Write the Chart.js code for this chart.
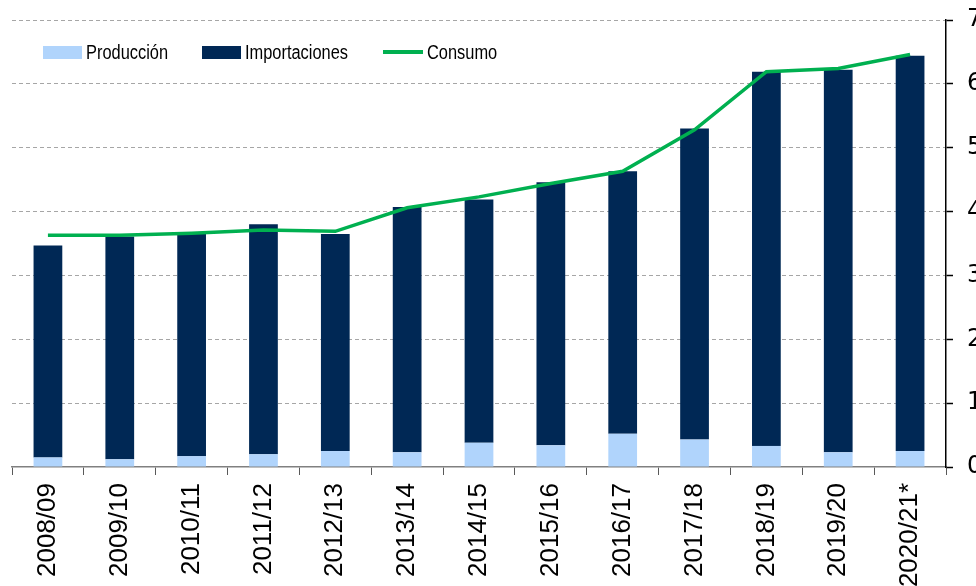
<!DOCTYPE html>
<html>
<head>
<meta charset="utf-8">
<script src="https://cdn.jsdelivr.net/npm/chart.js@4/dist/chart.umd.min.js"></script>
<style>
  html, body { margin: 0; padding: 0; background: #fff; overflow: hidden; }
  #wrap { position: relative; width: 976px; height: 586px; }
  #legend {
    position: absolute; left: 0; top: 0; width: 976px; height: 80px;
    font-family: "Liberation Sans", Arial, sans-serif;
    font-size: 20px; color: #000;
  }
  .item { position: absolute; top: 40px; height: 24px; display: flex; align-items: center; }
  .sym { display: inline-block; margin-right: 4px; }
  .txt { display: inline-block; transform: scaleX(0.82); transform-origin: left center; white-space: nowrap; }
</style>
</head>
<body>
<div id="wrap">
  <canvas id="chart" width="976" height="586"></canvas>
  <div id="legend"></div>
</div>
<script>
const labels = ["2008/09", "2009/10", "2010/11", "2011/12", "2012/13", "2013/14", "2014/15",
  "2015/16", "2016/17", "2017/18", "2018/19", "2019/20", "2020/21*"];
const produccion = [0.15, 0.12, 0.17, 0.20, 0.25, 0.23, 0.38, 0.34, 0.52, 0.43, 0.33, 0.23, 0.25];
const importaciones = [3.32, 3.49, 3.48, 3.60, 3.40, 3.84, 3.81, 4.12, 4.11, 4.87, 5.86, 5.99, 6.19];
const consumo = [3.63, 3.63, 3.66, 3.71, 3.69, 4.06, 4.23, 4.44, 4.63, 5.28, 6.19, 6.24, 6.46];
const yTicks = [0, 1, 2, 3, 4, 5, 6, 7];

const ctx = document.getElementById("chart").getContext("2d");

const chart = new Chart(ctx, {
  type: "bar",
  data: {
    labels: labels,
    datasets: [
      {
        type: "line",
        label: "Consumo",
        data: consumo,
        borderColor: "#00b050",
        backgroundColor: "#00b050",
        borderWidth: 3.5,
        pointRadius: 0,
        tension: 0,
        stack: "consumo",
        order: 0,
      },
      {
        label: "Producción",
        data: produccion,
        backgroundColor: "#b0d4fc",
        stack: "bars",
        order: 1,
        barPercentage: 0.4,
        categoryPercentage: 1,
      },
      {
        label: "Importaciones",
        data: importaciones,
        backgroundColor: "#002855",
        stack: "bars",
        order: 2,
        barPercentage: 0.4,
        categoryPercentage: 1,
      },
    ],
  },
  options: {
    responsive: false,
    animation: false,
    layout: { padding: { top: 20, left: 12, right: 0, bottom: 0 } },
    plugins: {
      legend: { display: false },
      tooltip: { enabled: false },
    },
    scales: {
      x: {
        stacked: true,
        grid: {
          offset: true,
          drawOnChartArea: false,
          drawTicks: true,
          tickLength: 8,
          tickColor: "#595959",
        },
        border: { display: true, color: "#808080", width: 1.5 },
        ticks: {
          minRotation: 90,
          maxRotation: 90,
          autoSkip: false,
          padding: 8,
          color: "#000",
          font: { family: "'Liberation Sans', Arial, sans-serif", size: 26 },
        },
        afterFit: (scale) => { scale.height = 119; },
      },
      y: {
        stacked: true,
        position: "right",
        min: 0,
        max: 7,
        afterBuildTicks: (scale) => { scale.ticks = yTicks.map(v => ({ value: v })); },
        grid: {
          color: (c) => (c.tick && c.tick.value === 0 ? "rgba(0,0,0,0)" : "#a6a6a6"),
          lineWidth: 1,
          drawTicks: true,
          tickLength: 7,
          tickColor: "#000",
          tickBorderDash: [],
          tickWidth: 1.5,
        },
        border: { display: true, color: "#000", width: 1.5, dash: [4, 3] },
        ticks: {
          padding: 14,
          color: "#000",
          font: { family: "'DejaVu Sans', Verdana, sans-serif", size: 24 },
        },
        afterFit: (scale) => {
          scale.width = 30;
          scale.paddingTop = 0;
          scale.paddingBottom = 0;
        },
      },
    },
  },
});

// legend inside the plot area, built from the datasets
const legendLeft = { "Producción": 43, "Importaciones": 202, "Consumo": 383 };
const legend = document.getElementById("legend");
Object.keys(legendLeft).forEach(name => {
  const ds = chart.data.datasets.find(d => d.label === name);
  const item = document.createElement("div");
  item.className = "item";
  item.style.left = legendLeft[name] + "px";
  const sym = document.createElement("span");
  sym.className = "sym";
  if (ds.type === "line") {
    sym.style.width = "40px";
    sym.style.height = "4px";
    sym.style.background = ds.borderColor;
  } else {
    sym.style.width = "39px";
    sym.style.height = "13px";
    sym.style.background = ds.backgroundColor;
  }
  const txt = document.createElement("span");
  txt.className = "txt";
  txt.textContent = name;
  item.appendChild(sym);
  item.appendChild(txt);
  legend.appendChild(item);
});
</script>
</body>
</html>
